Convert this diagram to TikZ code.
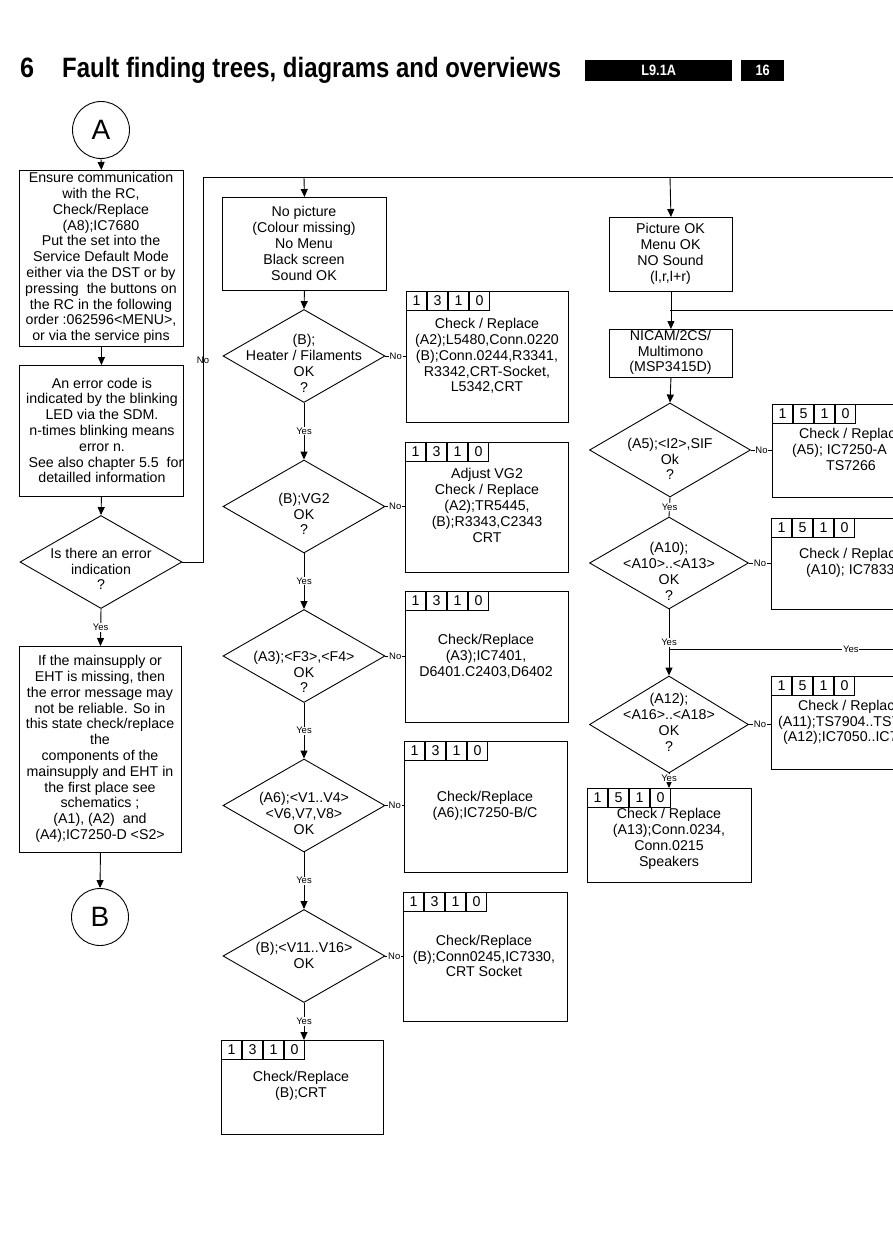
\documentclass[tikz,border=0pt]{standalone}
\usepackage{fontspec}
\setmainfont{Liberation Sans}
\usetikzlibrary{shapes.geometric,arrows.meta}
\newcommand\cellrow[7]{%
  \node[cell] (#1a) at (#2,#3) {#4};
  \node[cell] (#1b) at (#1a.north east) {#5};
  \node[cell] (#1c) at (#1b.north east) {#6};
  \node[cell] (#1d) at (#1c.north east) {#7};
}
\begin{document}
\begin{tikzpicture}[x=1pt,y=-1pt,
  every node/.style={font=\fontsize{14.2}{15.8}\selectfont, inner sep=0pt},
  ln/.style={line width=0.9pt},
  arr/.style={line width=0.9pt,-{Triangle[width=7pt,length=8pt]}},
  boxn/.style={draw,line width=0.9pt,anchor=north west},
  txt/.style={align=center},
  dia/.style={draw,line width=0.9pt,diamond,minimum width=162pt,minimum height=93pt,inner sep=0pt},
  lab/.style={font=\fontsize{9.5}{10}\selectfont,fill=white,inner sep=0.8pt},
  labn/.style={font=\fontsize{9.5}{10}\selectfont,inner sep=0pt},
  cell/.style={draw,line width=0.8pt,anchor=north west,minimum width=20.2pt,minimum height=18.7pt},
  circ/.style={draw,circle,line width=0.9pt,minimum size=57pt,font=\fontsize{28}{30}\selectfont},
  hbox/.style={fill=black,anchor=north west,text=white,minimum height=21pt},
]
\useasboundingbox (0,0) rectangle (893,1245);
\fill[white] (0,0) rectangle (893,1245);
\clip (0,0) rectangle (893,1245);

% ---------- header ----------
\node[anchor=base west,font=\bfseries\fontsize{28}{30}\selectfont] (h6) at (20,77) {\scalebox{0.9}[1]{6}};
\node[anchor=base west,font=\bfseries\fontsize{28}{30}\selectfont] (ht) at (62,77) {\scalebox{0.855}[1]{Fault finding trees, diagrams and overviews}};
\node[hbox,minimum width=147pt,font=\bfseries\fontsize{15}{16}\selectfont] (hb1) at (585,60) {\scalebox{0.85}[1]{L9.1A}};
\node[hbox,minimum width=43pt,font=\bfseries\fontsize{15}{16}\selectfont] (hb2) at (741,60) {\scalebox{0.85}[1]{16}};

% ---------- left column ----------
\node[circ] (cA) at (101,130) {A};
\node[boxn,minimum width=164pt,minimum height=176pt] (b1) at (19,170) {};
\node[txt] (b1t) at (101,258) {Ensure communication\\with the RC,\\Check/Replace\\(A8);IC7680\\Put the set into the\\Service Default Mode\\either via the DST or by\\pressing \ the buttons on\\the RC in the following\\order :062596<MENU>,\\or via the service pins};
\node[boxn,minimum width=164pt,minimum height=131pt] (b2) at (19,365) {};
\node[txt] (b2t) at (102,430.5) {An error code is\\indicated by the blinking\\LED via the SDM.\\n-times blinking means\\error n.\\\ \ See also chapter 5.5\ \ for\\detailled information};
\node[dia] (d1) at (101,562) {};
\node[txt] (d1t) at (101,569) {Is there an error\\indication\\?};
\node[boxn,minimum width=162pt,minimum height=206pt] (b3) at (19,646) {};
\node[txt] (b3t) at (100,749) {If the mainsupply or\\EHT is missing, then\\the error message may\\not be reliable. So in\\this state check/replace\\the\\components of the\\mainsupply and EHT in\\the first place see\\schematics ;\\(A1), (A2) \ and\\(A4);IC7250-D <S2>};
\node[circ] (cB) at (100,917) {B};

\draw[arr] (cA.south) -- (b1.north);
\draw[arr] (b1.south) -- (b2.north);
\draw[arr] (b2.south) -- (d1.north);
\draw[arr] (d1.south) -- node[lab] (y1) {Yes} (b3.north);
\draw[arr] (b3.south) -- (cB.north);

\coordinate (t1) at (203,177);
\coordinate (tR) at (900,177);
\draw[ln] (d1.east) -| (t1) -- (tR);
\node[labn] (n1) at (203,360) {No};

% ---------- middle column ----------
\coordinate (t2) at (304,177);
\node[boxn,minimum width=164pt,minimum height=93pt] (np) at (222,197) {};
\node[txt] (npt) at (304,243.5) {No picture\\(Colour missing)\\No Menu\\Black screen\\Sound OK};
\draw[arr] (t2) -- (np.north);

\node[dia] (d2) at (304,356) {};
\node[txt] (d2t) at (304,363.5) {(B);\\Heater / Filaments\\OK\\?};
\node[boxn,minimum width=162pt,minimum height=131pt] (c2) at (406,291) {};
\cellrow{c2h}{406}{291}{1}{3}{1}{0}
\node[txt] (c2t) at (487,356) {Check / Replace\\(A2);L5480,Conn.0220\\(B);Conn.0244,R3341,\\R3342,CRT-Socket,\\L5342,CRT};

\node[dia] (d3) at (304,506.5) {};
\node[txt] (d3t) at (304,514) {(B);VG2\\OK\\?};
\node[boxn,minimum width=163pt,minimum height=130pt] (c3) at (405,442) {};
\cellrow{c3h}{405}{442}{1}{3}{1}{0}
\node[txt] (c3t) at (487,505.5) {Adjust VG2\\Check / Replace\\(A2);TR5445,\\(B);R3343,C2343\\CRT};

\node[dia] (d4) at (304,656) {};
\node[txt] (d4t) at (304,672) {(A3);<F3>,<F4>\\OK\\?};
\node[boxn,minimum width=163pt,minimum height=131pt] (c4) at (405,591) {};
\cellrow{c4h}{405}{591}{1}{3}{1}{0}
\node[txt] (c4t) at (486,656) {Check/Replace\\(A3);IC7401,\\D6401.C2403,D6402};

\node[dia] (d5) at (304,805.5) {};
\node[txt] (d5t) at (304,813.5) {(A6);<V1..V4>\\<V6,V7,V8>\\OK};
\node[boxn,minimum width=163pt,minimum height=131pt] (c5) at (404,741) {};
\cellrow{c5h}{404}{741}{1}{3}{1}{0}
\node[txt] (c5t) at (485,805.5) {Check/Replace\\(A6);IC7250-B/C};

\node[dia] (d6) at (304,956) {};
\node[txt] (d6t) at (304,955.5) {(B);<V11..V16>\\OK};
\node[boxn,minimum width=164pt,minimum height=129pt] (c6) at (403,892) {};
\cellrow{c6h}{403}{892}{1}{3}{1}{0}
\node[txt] (c6t) at (484,956) {Check/Replace\\(B);Conn0245,IC7330,\\CRT Socket};

\node[boxn,minimum width=162pt,minimum height=94pt] (c7) at (221,1040) {};
\cellrow{c7h}{221}{1040}{1}{3}{1}{0}
\node[txt] (c7t) at (301,1086) {Check/Replace\\(B);CRT};

\draw[arr] (np.south) -- (d2.north);
\draw[arr] (d2.south) -- node[lab] (y2) {Yes} (d3.north);
\draw[arr] (d3.south) -- node[lab] (y3) {Yes} (d4.north);
\draw[arr] (d4.south) -- node[lab] (y4) {Yes} (d5.north);
\draw[arr] (d5.south) -- node[lab] (y5) {Yes} (d6.north);
\draw[arr] (d6.south) -- node[lab] (y6) {Yes} (d6.south |- c7.north);
\draw[ln] (d2.east) -- node[lab] (n2) {No} (d2.east -| c2.west);
\draw[ln] (d3.east) -- node[lab] (n3) {No} (d3.east -| c3.west);
\draw[ln] (d4.east) -- node[lab] (n4) {No} (d4.east -| c4.west);
\draw[ln] (d5.east) -- node[lab] (n5) {No} (d5.east -| c5.west);
\draw[ln] (d6.east) -- node[lab] (n6) {No} (d6.east -| c6.west);

% ---------- right column ----------
\coordinate (t3) at (670,177);
\node[boxn,minimum width=123pt,minimum height=74pt] (pok) at (609,217) {};
\node[txt] (pokt) at (670.5,254) {Picture OK\\Menu OK\\NO Sound\\(l,r,l+r)};
\draw[arr] (t3) -- (pok.north);

\node[boxn,minimum width=123pt,minimum height=48pt] (nic) at (609,329) {};
\node[txt] (nict) at (670.5,352.5) {NICAM/2CS/\\Multimono\\(MSP3415D)};
\coordinate (j1) at (670,310);
\coordinate (r1) at (900,310);
\draw[arr] (pok.south) -- (nic.north);
\draw[ln] (j1) -- (r1);

\node[dia,minimum width=161pt,minimum height=94pt] (d7) at (670,450) {};
\node[txt] (d7t) at (670,459) {(A5);<I2>,SIF\\Ok\\?};
\node[boxn,minimum width=162pt,minimum height=93pt] (c8) at (772,404) {};
\cellrow{c8h}{772}{404}{1}{5}{1}{0}
\node[anchor=west] (c8t1) at (799,435) {Check / Replac};
\node[anchor=west] (c8t2) at (792,450.5) {(A5); IC7250-A};
\node (c8t3) at (851,466) {TS7266};

\node[dia,minimum width=159pt,minimum height=92pt] (d8) at (669,563) {};
\node[txt] (d8t) at (669,571.5) {(A10);\\<A10>..<A13>\\OK\\?};
\node[boxn,minimum width=162pt,minimum height=91pt] (c9) at (771,518) {};
\cellrow{c9h}{771}{518}{1}{5}{1}{0}
\node[anchor=west] (c9t1) at (799,555) {Check / Replac};
\node[anchor=west] (c9t2) at (806,570.5) {(A10); IC7833};

\node[dia,minimum width=159pt,minimum height=97pt] (d9) at (669,724.5) {};
\node[txt] (d9t) at (669,722.5) {(A12);\\<A16>..<A18>\\OK\\?};
\node[boxn,minimum width=162pt,minimum height=93pt] (c10) at (771,676) {};
\cellrow{c10h}{771}{676}{1}{5}{1}{0}
\node[anchor=west] (c10t1) at (798,707) {Check / Replac};
\node[anchor=west] (c10t2) at (778,722.5) {(A11);TS7904..TS7};
\node[anchor=west] (c10t3) at (783,738) {(A12);IC7050..IC7};

\node[boxn,minimum width=164pt,minimum height=94pt] (c11) at (587,788) {};
\cellrow{c11h}{587}{788}{1}{5}{1}{0}
\node[txt] (c11t) at (669,839) {Check / Replace\\(A13);Conn.0234,\\Conn.0215\\Speakers};

\draw[arr] (nic.south) -- (d7.north);
\draw[ln] (d7.south) -- node[lab] (y7) {Yes} (d8.north);
\draw[arr] (d8.south) -- node[lab] (y8) {Yes} (d9.north);
\coordinate (j2) at (669,649);
\coordinate (r2) at (900,649);
\draw[ln] (j2) -- node[lab,pos=0.787] (y9) {Yes} (r2);
\draw[arr] (d9.south) -- node[lab,pos=0.3] (y10) {Yes} (d9.south |- c11.north);
\draw[ln] (d7.east) -- node[lab] (n7) {No} (d7.east -| c8.west);
\draw[ln] (d8.east) -- node[lab] (n8) {No} (d8.east -| c9.west);
\draw[ln] (d9.east) -- node[lab] (n9) {No} (d9.east -| c10.west);
\end{tikzpicture}
\end{document}
